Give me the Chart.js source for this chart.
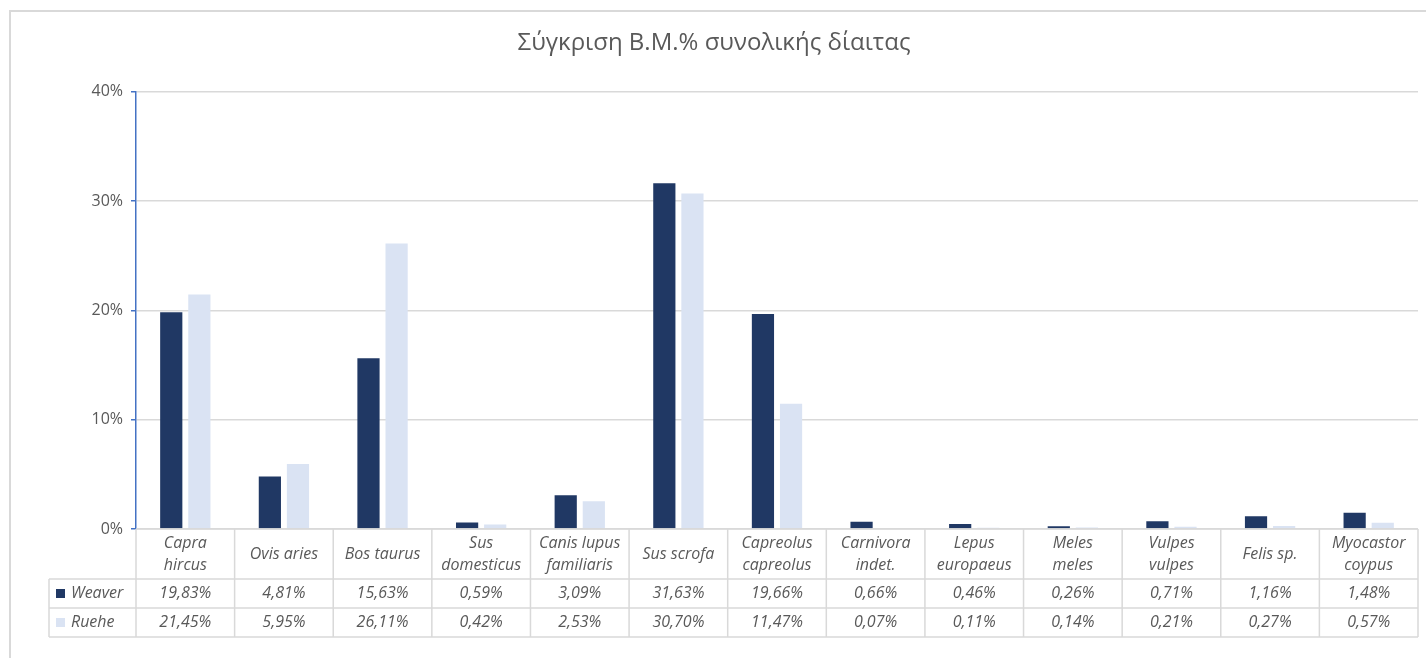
<!DOCTYPE html>
<html>
<head>
<meta charset="UTF-8">
<title>Σύγκριση Β.Μ.% συνολικής δίαιτας</title>
<script src="https://cdn.jsdelivr.net/npm/chart.js"></script>
<style>
  body { margin: 0; background: #fff; }
  #wrap { width: 1426px; height: 658px; }
</style>
</head>
<body>
<div id="wrap"><canvas id="dietChart" width="1426" height="658"></canvas></div>
<script>
// species (two-line names are split the way they wrap in the table header)
const categories = [
    ['Capra', 'hircus'], ['Ovis aries'], ['Bos taurus'], ['Sus', 'domesticus'],
    ['Canis lupus', 'familiaris'], ['Sus scrofa'], ['Capreolus', 'capreolus'],
    ['Carnivora', 'indet.'], ['Lepus', 'europaeus'], ['Meles', 'meles'],
    ['Vulpes', 'vulpes'], ['Felis sp.'], ['Myocastor', 'coypus']
];
const seriesNames = ['Weaver', 'Ruehe'];
const weaver = [19.83, 4.81, 15.63, 0.59, 3.09, 31.63, 19.66, 0.66, 0.46, 0.26, 0.71, 1.16, 1.48];
const ruehe  = [21.45, 5.95, 26.11, 0.42, 2.53, 30.70, 11.47, 0.07, 0.11, 0.14, 0.21, 0.27, 0.57];
const yMax = 40;
const yStep = 10;

const textColor = '#595959';
const lineColor = '#d9d9d9';
const fontFamily = '"Open Sans", "DejaVu Sans", sans-serif';

function pct(v) {
    return v.toFixed(2).replace('.', ',') + '%';
}

// light grey frame around the whole chart
const frame = {
    id: 'frame',
    beforeDraw(chart) {
        const ctx = chart.ctx;
        ctx.save();
        ctx.fillStyle = '#fff';
        ctx.fillRect(0, 0, chart.width, chart.height);
        ctx.strokeStyle = lineColor;
        ctx.lineWidth = 2;
        ctx.beginPath();
        ctx.moveTo(10, chart.height);
        ctx.lineTo(10, 11);
        ctx.lineTo(chart.width, 11);
        ctx.stroke();
        ctx.restore();
    }
};

// data table under the bars, columns follow the x scale
const dataTable = {
    id: 'dataTable',
    afterDraw(chart) {
        const ctx = chart.ctx;
        const area = chart.chartArea;
        const x = chart.scales.x;
        const n = chart.data.labels.length;
        const cw = (area.right - area.left) / n;
        const top = area.bottom;
        const bottom = x.bottom;
        const headH = 50;
        const rowH = (bottom - top - headH) / 2;
        const r1 = top + headH;
        const legLeft = 49;

        ctx.save();
        ctx.strokeStyle = lineColor;
        ctx.lineWidth = 1.5;
        ctx.beginPath();
        ctx.moveTo(area.left, top);
        ctx.lineTo(area.right, top);
        [r1, r1 + rowH, bottom].forEach(y => {
            ctx.moveTo(legLeft, y);
            ctx.lineTo(area.right, y);
        });
        for (let i = 0; i <= n; i++) {
            const xx = area.left + i * cw;
            ctx.moveTo(xx, top);
            ctx.lineTo(xx, bottom);
        }
        ctx.moveTo(legLeft, r1);
        ctx.lineTo(legLeft, bottom);
        ctx.stroke();

        ctx.font = 'italic 16px ' + fontFamily;
        ctx.fillStyle = textColor;
        ctx.textAlign = 'center';
        ctx.textBaseline = 'middle';
        chart.data.labels.forEach((lab, i) => {
            const cx = x.getPixelForValue(i);
            const lines = [].concat(lab);
            lines.forEach((t, j) => {
                ctx.fillText(t, cx, top + headH / 2 + (j - (lines.length - 1) / 2) * 22);
            });
            chart.data.datasets.forEach((ds, k) => {
                ctx.fillText(pct(ds.data[i]), cx, r1 + rowH * k + rowH / 2);
            });
        });

        // legend keys in the first column
        ctx.textAlign = 'left';
        chart.data.datasets.forEach((ds, k) => {
            const cy = r1 + rowH * k + rowH / 2;
            ctx.fillStyle = ds.backgroundColor;
            ctx.fillRect(56, cy - 4.5, 9, 9);
            ctx.fillStyle = textColor;
            ctx.fillText(ds.label, 71, cy);
        });
        ctx.restore();
    }
};

const ctx = document.getElementById('dietChart').getContext('2d');
new Chart(ctx, {
    type: 'bar',
    data: {
        labels: categories,
        datasets: [{
            label: seriesNames[0],
            data: weaver,
            backgroundColor: '#203864',
            borderWidth: 0
        }, {
            label: seriesNames[1],
            data: ruehe,
            backgroundColor: '#dae3f3',
            borderWidth: 0
        }]
    },
    options: {
        responsive: false,
        animation: false,
        categoryPercentage: 0.57,
        barPercentage: 0.79,
        layout: { padding: { left: 10, right: 8, top: 0, bottom: 21 } },
        plugins: {
            legend: { display: false },
            tooltip: { enabled: false },
            title: {
                display: true,
                text: 'Σύγκριση Β.Μ.% συνολικής δίαιτας',
                color: textColor,
                font: { family: fontFamily, size: 24, weight: 'normal' },
                padding: { top: 29, bottom: 34 }
            }
        },
        scales: {
            x: {
                grid: { display: false },
                border: { display: false },
                ticks: { display: false },
                afterFit(scale) { scale.height = 108; }
            },
            y: {
                min: 0,
                max: yMax,
                ticks: {
                    stepSize: yStep,
                    color: textColor,
                    font: { family: fontFamily, size: 16 },
                    padding: 8,
                    callback: v => v + '%'
                },
                grid: { color: lineColor, lineWidth: 1.5, tickColor: '#4472c4', tickLength: 5 },
                border: { color: '#4472c4', width: 1.5 },
                afterFit(scale) { scale.width = 126; }
            }
        }
    },
    plugins: [frame, dataTable]
});
</script>
</body>
</html>
